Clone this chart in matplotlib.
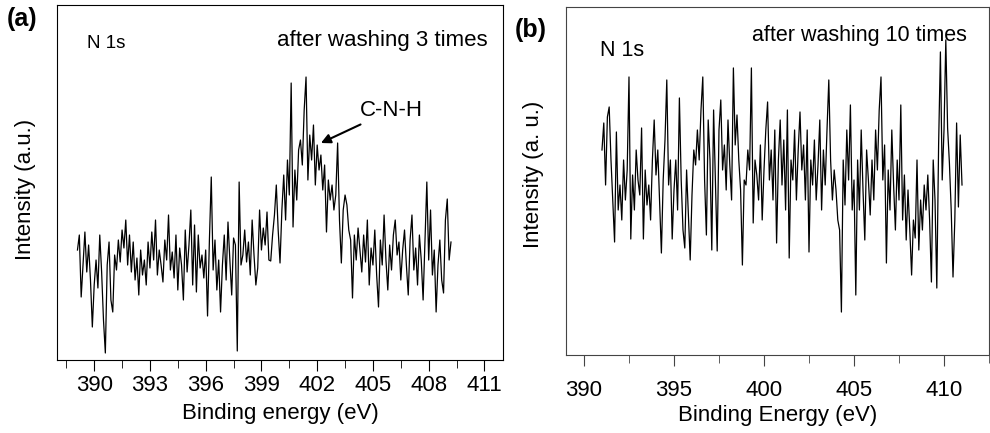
import numpy as np
import matplotlib.pyplot as plt
from matplotlib.ticker import MultipleLocator

plt.rcParams['font.family'] = ['Liberation Sans', 'DejaVu Sans']

# N 1s spectrum after washing 3 times (step 0.1 eV from 389.1 eV)
e_start_a = 389.1
int_a = [110, 125, 63, 95, 128, 88, 115, 80, 33, 75,
         100, 72, 125, 88, 40, 7, 95, 118, 60, 48,
         105, 90, 120, 98, 130, 112, 140, 95, 125, 88,
         118, 80, 102, 65, 110, 85, 100, 75, 118, 92,
         128, 100, 140, 85, 110, 95, 78, 120, 100, 145,
         90, 108, 82, 125, 70, 112, 95, 60, 130, 88,
         115, 150, 75, 135, 68, 125, 92, 105, 82, 110,
         44, 120, 183, 90, 120, 70, 100, 48, 95, 125,
         80, 138, 100, 65, 122, 115, 9, 178, 95, 105,
         130, 98, 118, 85, 140, 105, 75, 92, 150, 110,
         132, 115, 148, 100, 99, 125, 145, 175, 130, 97,
         150, 185, 140, 200, 165, 277, 133, 190, 160, 210,
         220, 195, 250, 283, 180, 225, 200, 235, 175, 215,
         190, 205, 170, 195, 128, 180, 160, 175, 150, 165,
         217, 140, 97, 150, 165, 155, 130, 120, 62, 125,
         100, 132, 110, 88, 125, 98, 140, 75, 112, 95,
         130, 85, 53, 120, 95, 145, 100, 70, 115, 90,
         125, 140, 105, 118, 80, 110, 130, 95, 65, 120,
         145, 90, 112, 75, 125, 100, 60, 118, 178, 100,
         150, 85, 110, 48, 95, 120, 80, 67, 140, 161, 100, 118]

# N 1s spectrum after washing 10 times (step 0.1 eV from 391.0 eV)
e_start_b = 391.0
int_b = [210, 237, 175, 243, 253, 200, 160, 118, 228, 150,
         175, 140, 200, 160, 190, 283, 121, 185, 150, 210,
         180, 165, 232, 121, 190, 155, 175, 140, 200, 240,
         185, 210, 160, 107, 180, 220, 280, 175, 200, 121,
         170, 200, 150, 262, 180, 130, 112, 190, 145, 100,
         165, 210, 195, 230, 200, 250, 283, 180, 125, 240,
         200, 110, 250, 180, 109, 230, 260, 190, 215, 170,
         240, 195, 160, 292, 215, 245, 200, 170, 95, 180,
         175, 210, 190, 292, 137, 200, 185, 160, 215, 140,
         190, 230, 258, 180, 210, 160, 230, 117, 200, 240,
         175, 220, 150, 250, 102, 200, 180, 230, 160, 210,
         248, 190, 215, 160, 230, 108, 200, 175, 220, 160,
         195, 240, 150, 210, 175, 230, 280, 200, 160, 190,
         170, 140, 130, 48, 200, 155, 230, 180, 255, 150,
         180, 65, 200, 150, 230, 170, 120, 210, 180, 145,
         200, 160, 230, 190, 250, 283, 180, 215, 97, 190,
         150, 230, 175, 130, 200, 160, 255, 140, 185, 120,
         170, 130, 85, 140, 122, 200, 110, 160, 130, 175,
         150, 185, 140, 78, 200, 160, 72, 215, 308, 180,
         230, 320, 232, 197, 150, 83, 140, 237, 153, 225, 175]

step = 0.1
e_a = e_start_a + step * np.arange(len(int_a))
e_b = e_start_b + step * np.arange(len(int_b))

fig = plt.figure(figsize=(9.9, 4.33), dpi=100)
ax1 = fig.add_axes([0.0576, 0.1686, 0.4505, 0.8198])
ax2 = fig.add_axes([0.5717, 0.180, 0.4273, 0.804])

# ---- panel (a)
ax1.plot(e_a, int_a, color='black', lw=0.9)
ax1.set_xlim(388, 412)
ax1.set_ylim(0, 355)
ax1.xaxis.set_major_locator(MultipleLocator(3))
ax1.xaxis.set_minor_locator(MultipleLocator(1.5))
ax1.set_yticks([])
ax1.tick_params(axis='x', which='major', direction='out', length=8, labelsize=16, pad=3)
ax1.tick_params(axis='x', which='minor', direction='out', length=6)
ax1.set_xlabel('Binding energy (eV)', fontsize=16, labelpad=5)
ax1.set_ylabel('Intensity (a.u.)', fontsize=16, labelpad=15, y=0.48)
ax1.text(0.067, 0.893, 'N 1s', transform=ax1.transAxes, fontsize=13.5, va='center')
ax1.text(0.966, 0.90, 'after washing 3 times', transform=ax1.transAxes,
         fontsize=16, ha='right', va='center')
ax1.annotate('C-N-H', xy=(402.2, 217), xytext=(404.3, 250), fontsize=16,
             va='center', arrowprops=dict(arrowstyle='-|>', color='black', lw=1.5,
                                          mutation_scale=14, shrinkA=2, shrinkB=0))
fig.text(0.007, 0.957, '(a)', fontsize=18, fontweight='bold', va='center')

# ---- panel (b)
ax2.plot(e_b, int_b, color='black', lw=0.9)
ax2.set_xlim(389, 412.5)
ax2.set_ylim(5, 353)
ax2.xaxis.set_major_locator(MultipleLocator(5))
ax2.xaxis.set_minor_locator(MultipleLocator(2.5))
ax2.set_yticks([])
for s in ax2.spines.values():
    s.set_color('#444444')
ax2.tick_params(axis='x', which='major', direction='out', length=8, labelsize=16,
                pad=10, color='#444444')
ax2.tick_params(axis='x', which='minor', direction='out', length=6, color='#444444')
ax2.set_xlabel('Binding Energy (eV)', fontsize=16, labelpad=3)
ax2.set_ylabel('Intensity (a. u.)', fontsize=16, labelpad=16, y=0.52)
ax2.text(0.08, 0.876, 'N 1s', transform=ax2.transAxes, fontsize=15.5, va='center')
ax2.text(0.948, 0.917, 'after washing 10 times', transform=ax2.transAxes,
         fontsize=15.5, ha='right', va='center')
fig.text(0.52, 0.93, '(b)', fontsize=18, fontweight='bold', va='center')

fig.savefig('out.png', dpi=100)
